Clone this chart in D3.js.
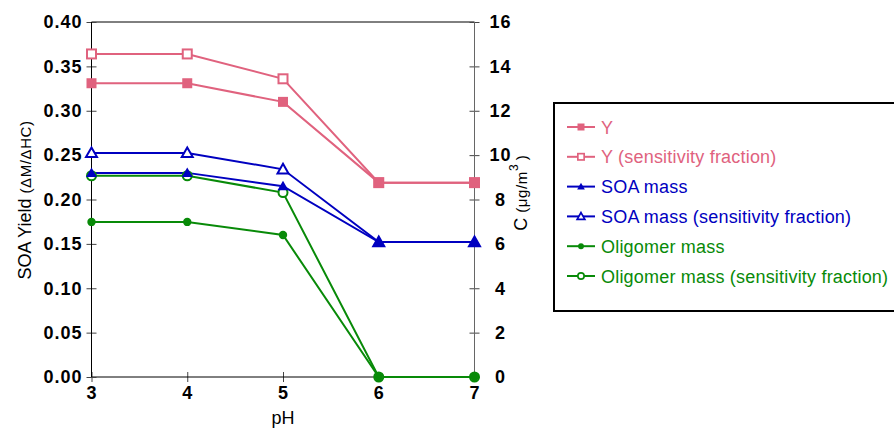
<!DOCTYPE html>
<html>
<head>
<meta charset="utf-8">
<script src="https://cdn.jsdelivr.net/npm/d3@7"></script>
<style>
  body { margin: 0; background: #fff; }
  text { font-family: "Liberation Sans", Arial, sans-serif; }
</style>
</head>
<body>
<script>
// data
const pH = [3, 4, 5, 6, 7];
const yieldY = [0.331, 0.331, 0.310, 0.219, 0.219];
const yieldYSens = [0.364, 0.364, 0.336, 0.219, 0.219];
const soaMass = [9.2, 9.2, 8.6, 6.08, 6.08];
const soaMassSens = [10.1, 10.1, 9.36, 6.08, 6.08];
const oligMass = [6.99, 6.99, 6.40, 0, 0];
const oligMassSens = [9.07, 9.07, 8.31, 0, 0];
const leftTicks = [0, 0.05, 0.10, 0.15, 0.20, 0.25, 0.30, 0.35, 0.40];
const rightTicks = [0, 2, 4, 6, 8, 10, 12, 14, 16];

const pink = "#e0627e", blue = "#0000c0", green = "#088a08";

const series = [
  {name: "Y", values: yieldY, axis: "left", color: pink, shape: "square", filled: true},
  {name: "Y (sensitivity fraction)", values: yieldYSens, axis: "left", color: pink, shape: "square", filled: false},
  {name: "SOA mass", values: soaMass, axis: "right", color: blue, shape: "triangle", filled: true},
  {name: "SOA mass (sensitivity fraction)", values: soaMassSens, axis: "right", color: blue, shape: "triangle", filled: false},
  {name: "Oligomer mass", values: oligMass, axis: "right", color: green, shape: "circle", filled: true},
  {name: "Oligomer mass (sensitivity fraction)", values: oligMassSens, axis: "right", color: green, shape: "circle", filled: false}
];

const margin = {top: 22, left: 91.5},
    width = 383,
    height = 355;

const svg = d3.select("body").append("svg")
    .attr("width", 894)
    .attr("height", 429);

const g = svg.append("g")
    .attr("transform", `translate(${margin.left},${margin.top})`);

const x = d3.scaleLinear().domain([3, 7]).range([0, width]);
const yL = d3.scaleLinear().domain([0, 0.4]).range([height, 0]);
const yR = d3.scaleLinear().domain([0, 16]).range([height, 0]);

// top border
g.append("line").attr("x1", 0).attr("x2", width).attr("y1", 0).attr("y2", 0)
    .attr("stroke", "#000").attr("stroke-width", 1);

// axes
function styleAxis(sel, lineColor) {
  sel.select(".domain").remove();
  sel.selectAll(".tick line").attr("stroke", lineColor);
  sel.selectAll(".tick text")
      .style("font-size", "18px").style("font-weight", "bold")
      .style("letter-spacing", "1px")
      .attr("fill", "#000");
}

const xAxis = g.append("g")
    .attr("transform", `translate(0,${height})`)
    .call(d3.axisBottom(x).tickValues(pH).tickFormat(d3.format("d")).tickSize(5).tickPadding(4));
styleAxis(xAxis, "#444");
xAxis.selectAll(".tick line").attr("y1", -5);
xAxis.append("line").attr("x1", 0).attr("x2", width).attr("stroke", "#000");

const leftAxis = g.append("g")
    .call(d3.axisLeft(yL).tickValues(leftTicks).tickFormat(d3.format(".2f")).tickSize(5).tickPadding(4));
styleAxis(leftAxis, "#444");
leftAxis.selectAll(".tick line").attr("x1", 5);
leftAxis.append("line").attr("y1", 0).attr("y2", height).attr("stroke", "#000");

const rightAxis = g.append("g")
    .attr("transform", `translate(${width},0)`)
    .call(d3.axisRight(yR).tickValues(rightTicks).tickSize(5).tickPadding(21));
styleAxis(rightAxis, "#444");
rightAxis.selectAll(".tick line").attr("x1", -5);
rightAxis.selectAll(".tick text").attr("text-anchor", "middle");
rightAxis.append("line").attr("y1", 0).attr("y2", height).attr("stroke", "#666");

// axis titles
g.append("text")
    .attr("text-anchor", "middle")
    .attr("x", width / 2)
    .attr("y", height + 47)
    .style("font-size", "18px")
    .text("pH");

const lt = svg.append("text")
    .attr("text-anchor", "middle")
    .attr("transform", `translate(31,${margin.top + 178}) rotate(-90)`)
    .style("font-size", "18px");
lt.append("tspan").text("SOA Yield ");
lt.append("tspan").style("font-size", "15px").style("letter-spacing", "0.6px").text(" (ΔM/ΔHC)");

const rt = svg.append("text")
    .attr("text-anchor", "middle")
    .attr("transform", `translate(527,${margin.top + 171}) rotate(-90)`)
    .style("font-size", "18px");
rt.append("tspan").text("C ");
rt.append("tspan").style("font-size", "15px").style("letter-spacing", "0.6px").text(" (μg/m");
rt.append("tspan").style("font-size", "12px").attr("dy", -9).text("3");
rt.append("tspan").style("font-size", "15px").attr("dy", 9).text(" )");

// markers
function drawMarker(sel, s, cx, cy, k) {
  const fill = s.filled ? s.color : "#fff";
  const sw = s.filled ? 0 : 2 * Math.min(1, k * 1.2);
  if (s.shape === "square") {
    const a = (s.filled ? 10 : 9) * k;
    sel.append("rect").attr("x", cx - a / 2).attr("y", cy - a / 2)
        .attr("width", a).attr("height", a)
        .attr("fill", fill).attr("stroke", s.color).attr("stroke-width", sw);
  } else if (s.shape === "triangle") {
    const r = 5.5 * k;
    sel.append("path")
        .attr("d", `M${cx},${cy - r}L${cx + r},${cy + r * 0.75}L${cx - r},${cy + r * 0.75}Z`)
        .attr("fill", fill).attr("stroke", s.color).attr("stroke-width", sw);
  } else {
    sel.append("circle").attr("cx", cx).attr("cy", cy).attr("r", (s.filled ? 4.2 : 4.5) * k)
        .attr("fill", fill).attr("stroke", s.color).attr("stroke-width", sw);
  }
}

// lines
series.forEach(s => {
  const yS = s.axis === "left" ? yL : yR;
  const line = d3.line().x((d, i) => x(pH[i])).y(d => yS(d));
  g.append("path")
      .datum(s.values)
      .attr("fill", "none")
      .attr("stroke", s.color)
      .attr("stroke-width", 2)
      .attr("d", line);
});
// open markers first, filled markers on top
series.filter(s => !s.filled).concat(series.filter(s => s.filled)).forEach(s => {
  const yS = s.axis === "left" ? yL : yR;
  s.values.forEach((v, i) => drawMarker(g, s, x(pH[i]), yS(v), 1));
});

// legend
const legend = svg.append("g").attr("transform", "translate(554,103)");
legend.append("rect")
    .attr("width", 345).attr("height", 208)
    .attr("fill", "#fff").attr("stroke", "#000").attr("stroke-width", 2);
series.forEach((s, i) => {
  const ly = 24 + i * 29.8;
  const row = legend.append("g");
  row.append("line").attr("x1", 13).attr("x2", 41).attr("y1", ly).attr("y2", ly)
      .attr("stroke", s.color).attr("stroke-width", 2);
  drawMarker(row, s, 27, ly, 0.7);
  row.append("text")
      .attr("x", 47).attr("y", ly + 6.5)
      .attr("fill", s.color)
      .style("font-size", "18px")
      .style("letter-spacing", "0.2px")
      .text(s.name);
});
</script>
</body>
</html>
